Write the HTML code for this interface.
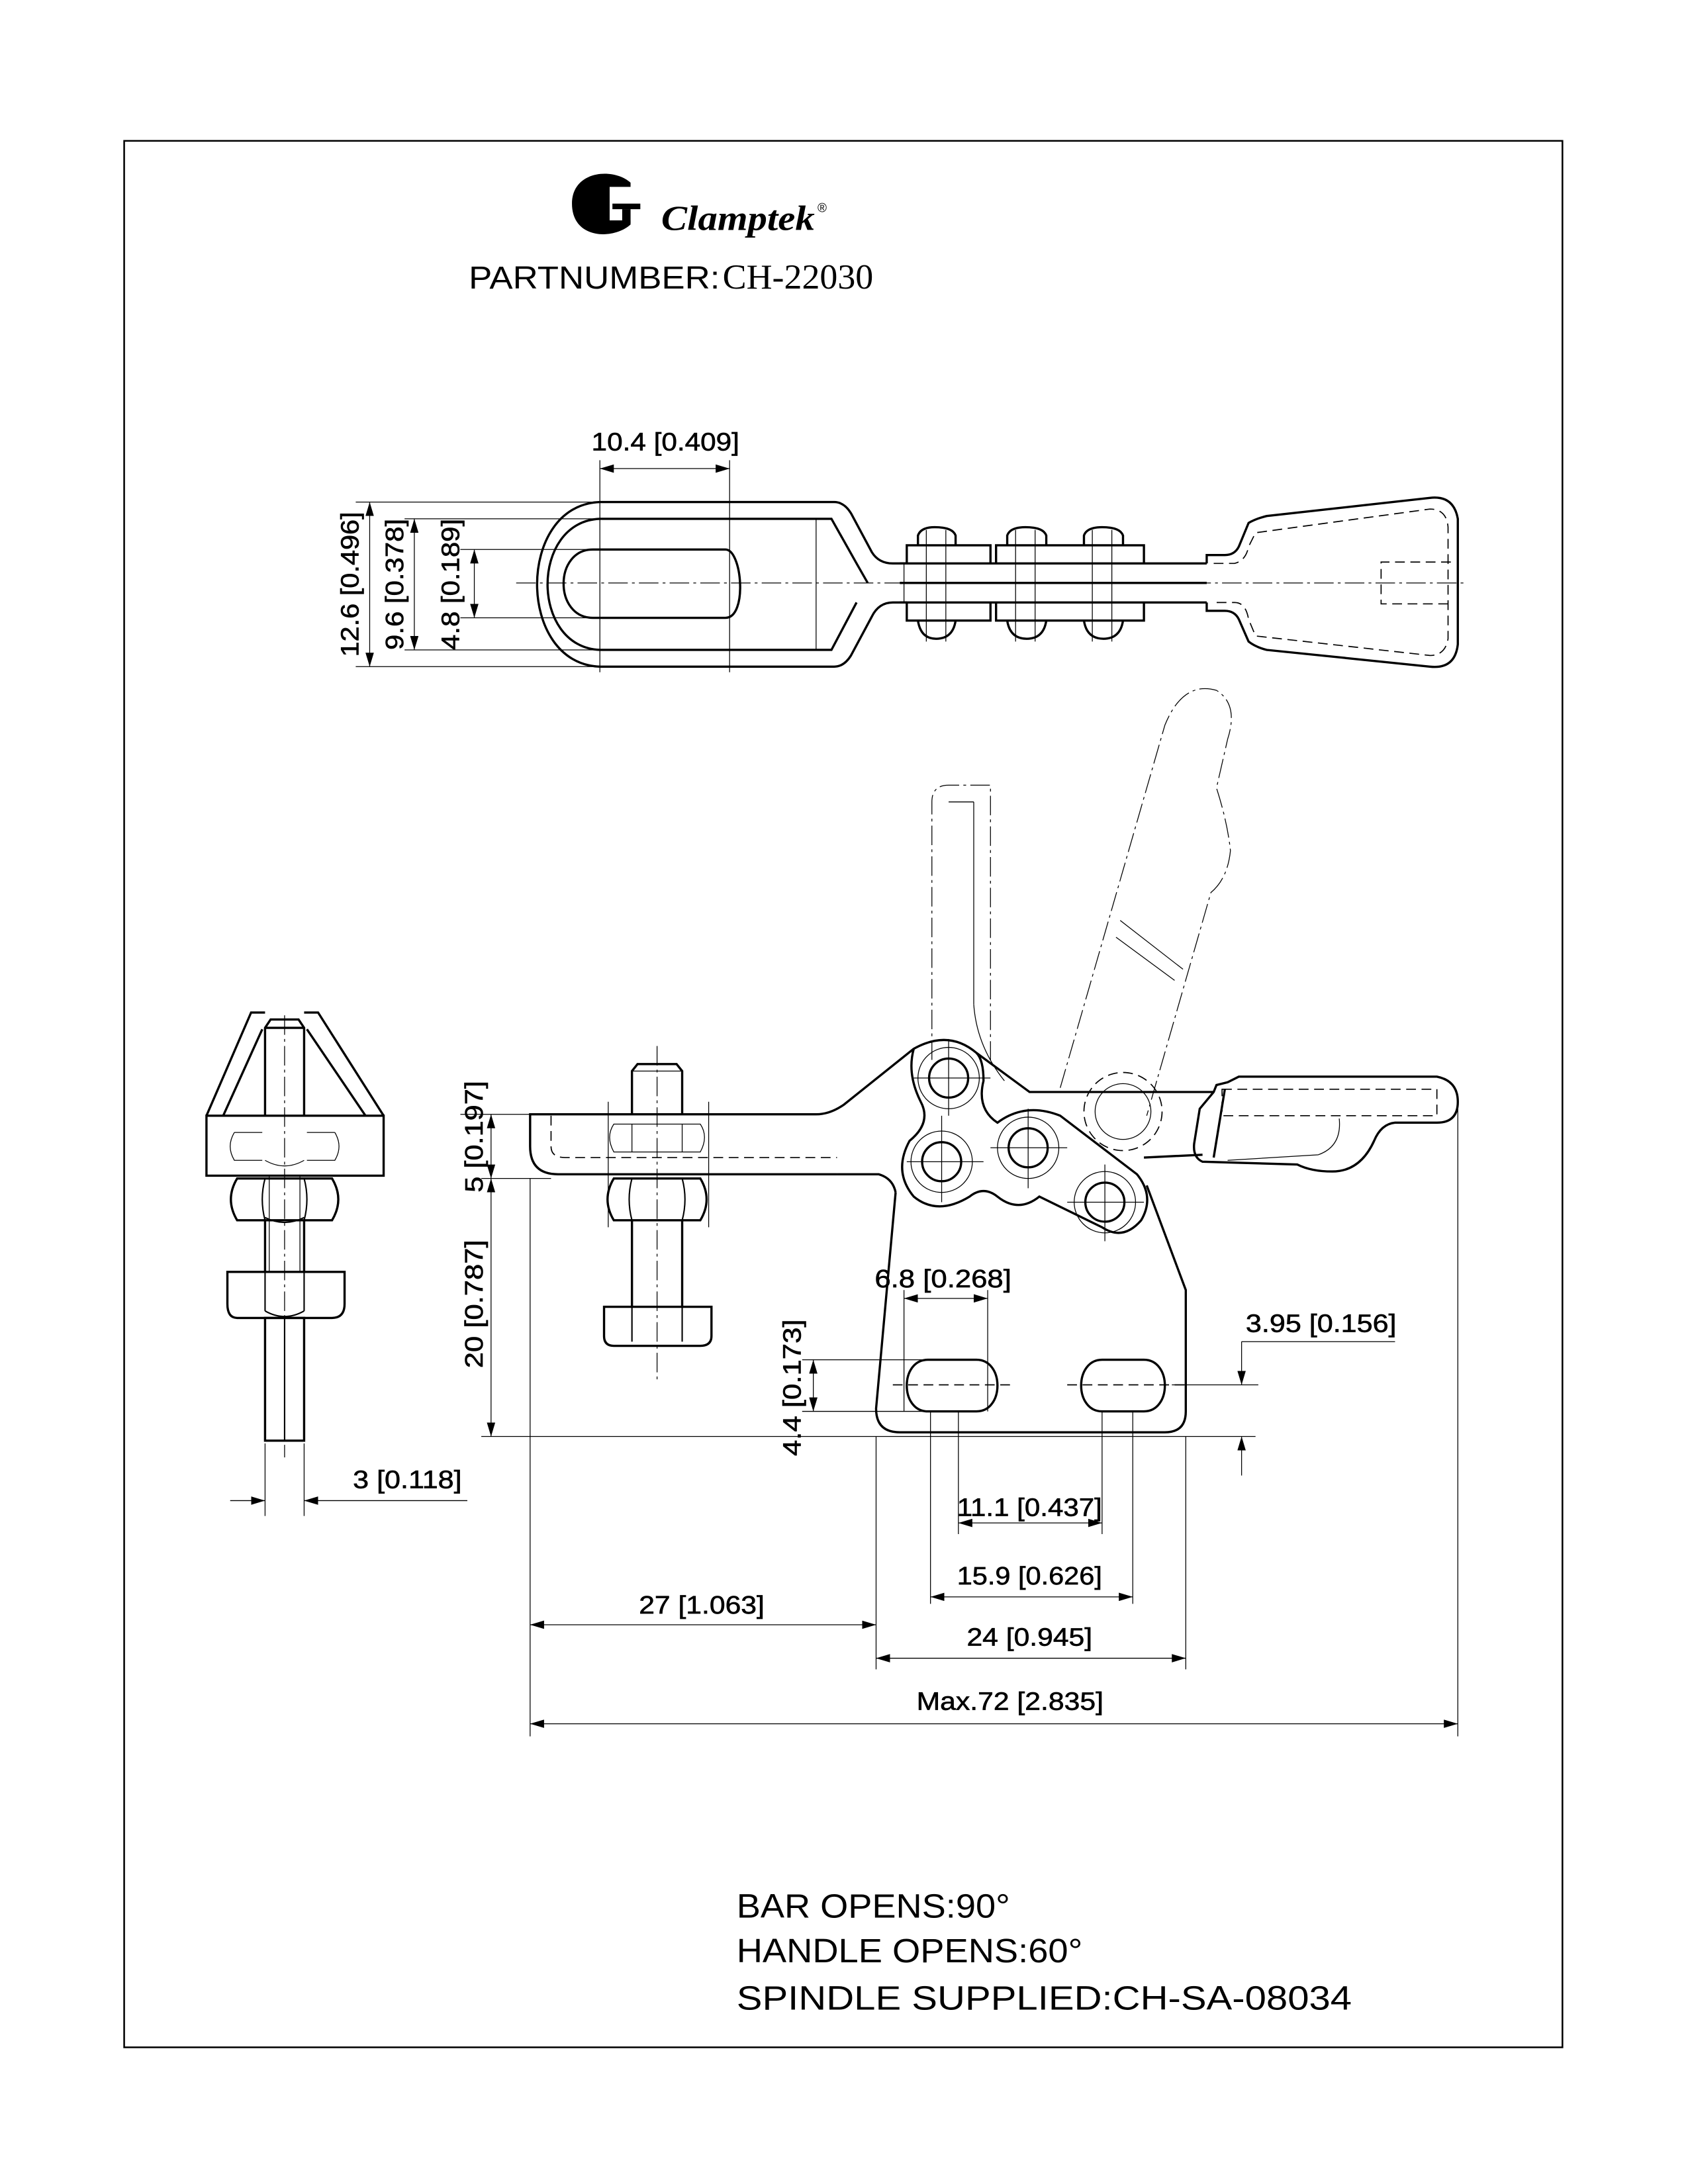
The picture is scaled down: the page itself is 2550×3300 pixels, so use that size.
<!DOCTYPE html>
<html><head><meta charset="utf-8"><style>
html,body{margin:0;padding:0;background:#fff}
svg{display:block}
text{font-family:"Liberation Sans",sans-serif;fill:#000}
.t{stroke:#000;stroke-width:0.6;fill:none}
.k{stroke:#000;stroke-width:1.6;fill:none}
.m{stroke:#000;stroke-width:1;fill:none}
.dd{stroke:#000;stroke-width:0.6;fill:none;stroke-dasharray:14 3 2 3}
.ds{stroke:#000;stroke-width:0.8;fill:none;stroke-dasharray:7 4}
.dim{font-size:18px;stroke:#000;stroke-width:0.3}
</style></head><body>
<svg width="2550" height="3300" viewBox="0 0 1210 1566" preserveAspectRatio="none" xmlns="http://www.w3.org/2000/svg">
<defs>
<marker id="a" viewBox="0 0 10 6" refX="10" refY="3" markerWidth="10" markerHeight="6" markerUnits="userSpaceOnUse" orient="auto-start-reverse"><path d="M0,0 L10,3 L0,6 z" fill="#000"/></marker>
</defs>
<rect x="89" y="101" width="1031" height="1367" fill="none" stroke="#000" stroke-width="1.2"/>
<!-- logo -->
<path d="M452,131 C440,120 410,122 410,146 C410,172 440,172 452,161 L452,158 L437,158 L437,134 L452,134 Z" fill="#000"/>
<rect x="439" y="146" width="20" height="4" fill="#000"/>
<rect x="446" y="150" width="6" height="10" fill="#000"/>
<text x="474" y="165" style="font-family:'Liberation Serif',serif;font-style:italic;font-weight:bold;font-size:25px" textLength="110" lengthAdjust="spacingAndGlyphs">Clamptek</text>
<text x="586" y="152" style="font-size:9px">®</text>
<text x="336" y="207" style="font-size:23px" textLength="180" lengthAdjust="spacingAndGlyphs">PARTNUMBER:</text>
<text x="518" y="207" style="font-family:'Liberation Serif',serif;font-size:25px" textLength="108" lengthAdjust="spacingAndGlyphs">CH-22030</text>

<!-- TOP VIEW -->
<text x="477" y="323" class="dim" text-anchor="middle" textLength="106" lengthAdjust="spacingAndGlyphs">10.4 [0.409]</text>
<line class="t" x1="430" y1="336" x2="523" y2="336" marker-start="url(#a)" marker-end="url(#a)"/>
<line class="t" x1="430" y1="330" x2="430" y2="482"/>
<line class="t" x1="523" y1="330" x2="523" y2="482"/>
<line class="t" x1="255" y1="360" x2="430" y2="360"/>
<line class="t" x1="255" y1="478" x2="430" y2="478"/>
<line class="t" x1="290" y1="372" x2="430" y2="372"/>
<line class="t" x1="290" y1="466" x2="430" y2="466"/>
<line class="t" x1="330" y1="394" x2="430" y2="394"/>
<line class="t" x1="330" y1="443" x2="430" y2="443"/>
<line class="t" x1="265" y1="360" x2="265" y2="478" marker-start="url(#a)" marker-end="url(#a)"/>
<line class="t" x1="297" y1="372" x2="297" y2="466" marker-start="url(#a)" marker-end="url(#a)"/>
<line class="t" x1="340" y1="394" x2="340" y2="443" marker-start="url(#a)" marker-end="url(#a)"/>
<text class="dim" transform="translate(257,419) rotate(-90)" text-anchor="middle" textLength="104" lengthAdjust="spacingAndGlyphs">12.6 [0.496]</text>
<text class="dim" transform="translate(289,419) rotate(-90)" text-anchor="middle" textLength="94" lengthAdjust="spacingAndGlyphs">9.6 [0.378]</text>
<text class="dim" transform="translate(329,419) rotate(-90)" text-anchor="middle" textLength="94" lengthAdjust="spacingAndGlyphs">4.8 [0.189]</text>
<path class="k" d="M430,360 L598,360 Q605,360 610,368 L625,396 Q630,404 640,404 L650,404"/>
<path class="k" d="M430,478 L598,478 Q605,478 610,470 L625,442 Q630,432 640,432 L650,432"/>
<path class="k" d="M430,360 C370,362 370,476 430,478"/>
<path class="k" d="M430,372 L596,372 L614,404 L622,418"/>
<path class="k" d="M430,466 L596,466 L614,432"/>
<path class="k" d="M430,372 C380,374 380,464 430,466"/>
<line class="t" x1="585" y1="372" x2="585" y2="466"/>
<path class="k" d="M425,394 L520,394 C532,394 536,443 520,443 L425,443 C397,443 397,394 425,394 Z"/>
<line class="dd" x1="370" y1="418" x2="1052" y2="418"/>
<line class="k" x1="645" y1="404" x2="865" y2="404"/>
<line class="k" x1="645" y1="432" x2="865" y2="432"/>
<line class="k" x1="645" y1="418" x2="865" y2="418"/>
<line class="t" x1="648" y1="404" x2="648" y2="432"/>
<path class="k" d="M650,404 L650,391 L710,391 L710,404 M714,404 L714,391 L820,391 L820,404"/>
<path class="k" d="M650,432 L650,445 L710,445 L710,432 M714,432 L714,445 L820,445 L820,432"/>
<path class="k" d="M658,391 L658,384 Q660,378 670,378 Q683,378 685,384 L685,391"/>
<path class="k" d="M722,391 L722,384 Q724,378 735,378 Q748,378 750,384 L750,391"/>
<path class="k" d="M777,391 L777,384 Q779,378 790,378 Q803,378 805,384 L805,391"/>
<path class="k" d="M658,445 Q660,458 671,458 Q683,458 685,445"/>
<path class="k" d="M722,445 Q724,458 736,458 Q748,458 750,445"/>
<path class="k" d="M777,445 Q779,458 791,458 Q803,458 805,445"/>
<g class="t">
<line x1="664" y1="380" x2="664" y2="460"/><line x1="678" y1="380" x2="678" y2="460"/>
<line x1="728" y1="380" x2="728" y2="460"/><line x1="742" y1="380" x2="742" y2="460"/>
<line x1="783" y1="380" x2="783" y2="460"/><line x1="797" y1="380" x2="797" y2="460"/>
</g>
<path class="k" d="M865,404 L865,398 L878,398 Q885,398 888,392 L895,375 Q900,372 908,370 L1025,357 Q1042,355 1045,372 L1045,462 Q1043,480 1025,478 L908,466 Q900,464 895,460 L888,444 Q885,438 878,438 L865,438 L865,432"/>
<path class="ds" d="M870,404 L885,404 Q893,402 895,392 L900,382 L1025,365 Q1037,365 1038,378 L1038,458 Q1036,470 1025,470 L900,456 L895,444 Q893,432 885,432 L870,432"/>
<path class="ds" d="M1040,403 L990,403 L990,433 L1040,433"/>

<!-- LEFT SPINDLE VIEW -->
<line class="dd" x1="204" y1="728" x2="204" y2="1045"/>
<path class="k" d="M190,800 L190,737 L194,731 L214,731 L218,737 L218,800"/>
<path class="k" d="M190,737 L218,737"/>
<path class="k" d="M148,800 L180,726 L190,726 M218,726 L228,726 L275,800"/>
<path class="k" d="M160,800 L188,738 M220,738 L262,800"/>
<rect class="k" x="148" y="800" width="127" height="43"/>
<path class="t" d="M168,812 Q162,822 168,832 L188,832 M240,812 Q246,822 240,832 L220,832 M168,812 L188,812 M220,812 L240,812 M190,832 Q204,840 218,832"/>
<path class="k" d="M170,845 L238,845 Q247,860 238,875 L170,875 Q161,860 170,845 Z"/>
<path class="m" d="M190,845 Q186,860 190,875 M218,845 Q222,860 218,875 M190,873 Q204,880 218,873"/>
<line class="k" x1="190" y1="875" x2="190" y2="912"/><line class="k" x1="218" y1="875" x2="218" y2="912"/>
<line class="t" x1="193" y1="843" x2="193" y2="912"/><line class="t" x1="215" y1="843" x2="215" y2="912"/>
<path class="k" d="M163,912 L247,912 L247,935 Q247,945 238,945 L170,945 Q163,945 163,935 Z"/>
<path class="m" d="M190,912 L190,940 M218,912 L218,940 M190,940 Q204,948 218,940"/>
<rect class="k" x="190" y="945" width="28" height="88"/>
<line class="m" x1="204" y1="945" x2="204" y2="1033"/>
<line class="t" x1="190" y1="1035" x2="190" y2="1087"/>
<line class="t" x1="218" y1="1035" x2="218" y2="1087"/>
<line class="t" x1="165" y1="1076" x2="190" y2="1076" marker-end="url(#a)"/>
<line class="t" x1="335" y1="1076" x2="218" y2="1076" marker-end="url(#a)"/>
<text class="dim" x="253" y="1067" textLength="78" lengthAdjust="spacingAndGlyphs">3 [0.118]</text>

<!-- MAIN SIDE VIEW -->
<path class="dd" d="M668,760 L668,575 Q668,563 680,563 L710,563 L710,760"/>
<line class="t" x1="680" y1="575" x2="698" y2="575"/>
<line class="t" x1="698" y1="575" x2="698" y2="720"/>
<path class="t" d="M698,720 Q700,750 720,775"/>
<path class="dd" d="M760,780 L835,520 Q848,488 872,495 Q888,505 880,530 L872,565 Q880,590 882,610 Q880,630 868,640 L822,800"/>
<path class="t" d="M803,660 L848,695 M800,672 L842,703"/>
<circle class="ds" cx="805" cy="797" r="28"/>
<circle class="t" cx="805" cy="797" r="20"/>
<path class="k" d="M600,842 L400,842 Q380,842 380,822 L380,799 L585,799 Q595,799 605,792 L655,752 Q680,738 700,755 L738,783 L870,783"/>
<path class="ds" d="M395,800 L395,822 Q395,830 405,830 L600,830"/>
<path class="k" d="M600,842 L630,842 Q640,845 642,855"/>
<path class="k" d="M870,783 L872,778 L880,776 L888,772 L1030,772 Q1045,775 1045,790 Q1045,805 1030,805 L1000,805 Q990,806 985,818 Q975,840 955,840 Q940,840 930,835 L862,833 Q855,830 856,820 L860,795 Z"/>
<path class="k" d="M820,830 L862,828"/>
<path class="ds" d="M876,781 L1030,781 L1030,800 L876,800 Z"/>
<path class="t" d="M960,802 Q962,822 945,828 L880,832"/>
<line class="k" x1="878" y1="781" x2="870" y2="830"/>
<path class="k" d="M655,752 Q650,770 660,790 Q668,805 652,818 Q640,840 655,858 Q672,872 695,858 Q705,850 715,858 Q730,870 745,858 L790,880 Q805,890 818,875 Q828,858 815,842 L760,800 Q735,790 715,805 Q700,795 705,775 Q705,760 700,755"/>
<circle class="t" cx="680" cy="773" r="22"/>
<circle class="t" cx="675" cy="833" r="22"/>
<circle class="t" cx="737" cy="823" r="22"/>
<circle class="t" cx="792" cy="862" r="22"/>
<circle class="k" cx="680" cy="773" r="14"/>
<circle class="k" cx="675" cy="833" r="14"/>
<circle class="k" cx="737" cy="823" r="14"/>
<circle class="k" cx="792" cy="862" r="14"/>
<g class="t">
<line x1="655" y1="773" x2="710" y2="773"/><line x1="680" y1="745" x2="680" y2="800"/>
<line x1="650" y1="833" x2="705" y2="833"/><line x1="675" y1="800" x2="675" y2="862"/>
<line x1="710" y1="823" x2="765" y2="823"/><line x1="737" y1="795" x2="737" y2="852"/>
<line x1="765" y1="862" x2="820" y2="862"/><line x1="792" y1="835" x2="792" y2="890"/>
</g>
<path class="k" d="M642,855 L628,1010 Q628,1027 645,1027 L835,1027 Q850,1027 850,1012 L850,925 L822,850"/>
<path class="k" d="M665,975 L700,975 C720,975 720,1012 700,1012 L665,1012 C645,1012 645,975 665,975 Z"/>
<path class="k" d="M790,975 L820,975 C840,975 840,1012 820,1012 L790,1012 C770,1012 770,975 790,975 Z"/>
<line class="ds" x1="640" y1="993" x2="725" y2="993"/>
<line class="ds" x1="765" y1="993" x2="850" y2="993"/>
<line class="dd" x1="471" y1="750" x2="471" y2="990"/>
<path class="k" d="M453,799 L453,768 L457,763 L485,763 L489,768 L489,799"/>
<line class="t" x1="453" y1="768" x2="489" y2="768"/>
<path class="t" d="M440,806 Q434,815 440,826 L502,826 Q508,815 502,806 Z M453,806 L453,826 M489,806 L489,826"/>
<path class="k" d="M440,845 L502,845 Q511,860 502,875 L440,875 Q431,860 440,845 Z"/>
<path class="m" d="M453,845 Q449,860 453,875 M489,845 Q493,860 489,875"/>
<line class="k" x1="453" y1="875" x2="453" y2="937"/><line class="k" x1="489" y1="875" x2="489" y2="937"/>
<path class="k" d="M433,937 L510,937 L510,958 Q510,965 502,965 L440,965 Q433,965 433,958 Z"/>
<path class="m" d="M453,937 L453,962 M489,937 L489,962"/>
<line class="t" x1="436" y1="790" x2="436" y2="880"/>
<line class="t" x1="508" y1="790" x2="508" y2="880"/>
<line class="t" x1="330" y1="799" x2="380" y2="799"/>
<line class="t" x1="345" y1="845" x2="395" y2="845"/>
<line class="t" x1="345" y1="1030" x2="900" y2="1030"/>
<line class="t" x1="352" y1="799" x2="352" y2="845" marker-start="url(#a)" marker-end="url(#a)"/>
<line class="t" x1="352" y1="845" x2="352" y2="1030" marker-start="url(#a)" marker-end="url(#a)"/>
<text class="dim" transform="translate(346,815) rotate(-90)" text-anchor="middle" textLength="80" lengthAdjust="spacingAndGlyphs">5 [0.197]</text>
<text class="dim" transform="translate(346,935) rotate(-90)" text-anchor="middle" textLength="92" lengthAdjust="spacingAndGlyphs">20 [0.787]</text>
<text class="dim" x="676" y="923" text-anchor="middle" textLength="98" lengthAdjust="spacingAndGlyphs">6.8 [0.268]</text>
<line class="t" x1="648" y1="931" x2="708" y2="931" marker-start="url(#a)" marker-end="url(#a)"/>
<line class="t" x1="648" y1="925" x2="648" y2="1012"/>
<line class="t" x1="708" y1="925" x2="708" y2="1012"/>
<text class="dim" transform="translate(574,995) rotate(-90)" text-anchor="middle" textLength="98" lengthAdjust="spacingAndGlyphs">4.4 [0.173]</text>
<line class="t" x1="583" y1="975" x2="583" y2="1012" marker-start="url(#a)" marker-end="url(#a)"/>
<line class="t" x1="575" y1="975" x2="680" y2="975"/>
<line class="t" x1="575" y1="1012" x2="680" y2="1012"/>
<text class="dim" x="947" y="955" text-anchor="middle" textLength="108" lengthAdjust="spacingAndGlyphs">3.95 [0.156]</text>
<line class="t" x1="890" y1="962" x2="1000" y2="962"/>
<line class="t" x1="890" y1="962" x2="890" y2="993" marker-end="url(#a)"/>
<line class="t" x1="840" y1="993" x2="902" y2="993"/>
<line class="t" x1="890" y1="1058" x2="890" y2="1030" marker-end="url(#a)"/>
<g class="t">
<line x1="628" y1="1030" x2="628" y2="1197"/>
<line x1="667" y1="1012" x2="667" y2="1150"/>
<line x1="687" y1="1012" x2="687" y2="1100"/>
<line x1="790" y1="1012" x2="790" y2="1100"/>
<line x1="812" y1="1012" x2="812" y2="1150"/>
<line x1="850" y1="1030" x2="850" y2="1197"/>
<line x1="1045" y1="790" x2="1045" y2="1245"/>
<line x1="380" y1="845" x2="380" y2="1245"/>
</g>
<text class="dim" x="738" y="1087" text-anchor="middle" textLength="104" lengthAdjust="spacingAndGlyphs">11.1 [0.437]</text>
<line class="t" x1="687" y1="1092" x2="790" y2="1092" marker-start="url(#a)" marker-end="url(#a)"/>
<text class="dim" x="738" y="1136" text-anchor="middle" textLength="104" lengthAdjust="spacingAndGlyphs">15.9 [0.626]</text>
<line class="t" x1="667" y1="1145" x2="812" y2="1145" marker-start="url(#a)" marker-end="url(#a)"/>
<text class="dim" x="503" y="1157" text-anchor="middle" textLength="90" lengthAdjust="spacingAndGlyphs">27 [1.063]</text>
<line class="t" x1="380" y1="1165" x2="628" y2="1165" marker-start="url(#a)" marker-end="url(#a)"/>
<text class="dim" x="738" y="1180" text-anchor="middle" textLength="90" lengthAdjust="spacingAndGlyphs">24 [0.945]</text>
<line class="t" x1="628" y1="1189" x2="850" y2="1189" marker-start="url(#a)" marker-end="url(#a)"/>
<text class="dim" x="724" y="1226" text-anchor="middle" textLength="134" lengthAdjust="spacingAndGlyphs">Max.72 [2.835]</text>
<line class="t" x1="380" y1="1236" x2="1045" y2="1236" marker-start="url(#a)" marker-end="url(#a)"/>

<text x="528" y="1375" style="font-size:24px" textLength="196" lengthAdjust="spacingAndGlyphs">BAR OPENS:90°</text>
<text x="528" y="1407" style="font-size:24px" textLength="248" lengthAdjust="spacingAndGlyphs">HANDLE OPENS:60°</text>
<text x="528" y="1441" style="font-size:24px" textLength="441" lengthAdjust="spacingAndGlyphs">SPINDLE SUPPLIED:CH-SA-08034</text>
</svg>
</body></html>
